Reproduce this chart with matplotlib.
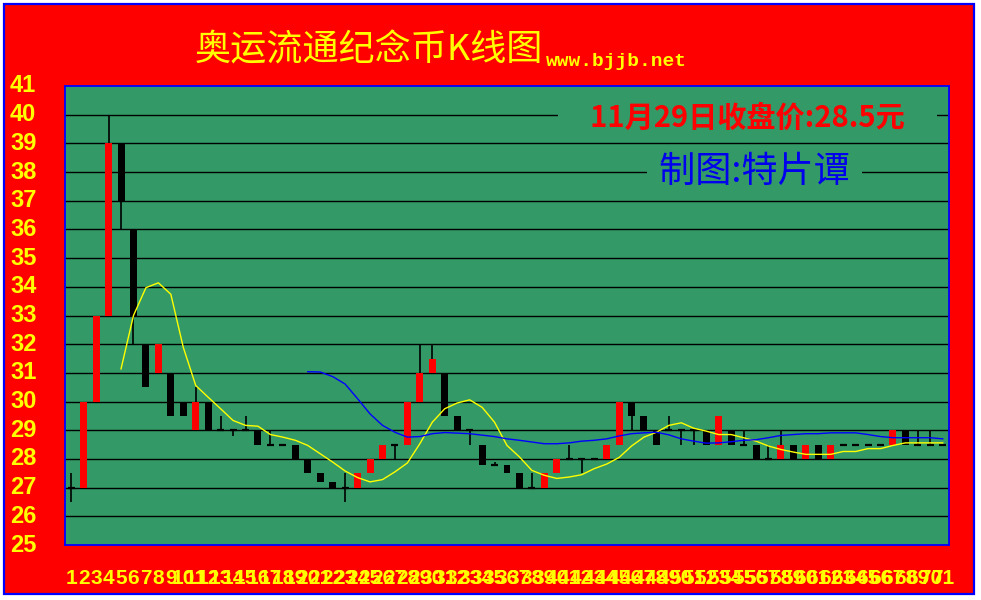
import numpy as np
import matplotlib.pyplot as plt
from matplotlib.patches import Rectangle
from matplotlib.transforms import blended_transform_factory
from matplotlib import font_manager

plt.rcParams['font.family'] = ['Noto Sans CJK SC', 'DejaVu Sans']
plt.rcParams['axes.unicode_minus'] = False

installed = {f.name for f in font_manager.fontManager.ttflist}
narrow = 'Liberation Sans Narrow' if 'Liberation Sans Narrow' in installed else 'Liberation Sans'

# 日K数据（第1天到第71天）
days = np.arange(1, 72)
open_ = [27, 27, 30, 33, 39, 36, 32, 31, 31, 30,
         29, 30, 29, 29, 29, 29, 28.5, 28.5, 28.5, 28,
         27.5, 27.2, 27, 27, 27.5, 28, 28.5, 28.5, 30, 31,
         31, 29.5, 29, 28.5, 27.8, 27.8, 27.5, 27, 27, 27.5,
         28, 28, 28, 28, 28.5, 30, 29.5, 29, 29, 29,
         29, 29, 28.5, 29, 28.5, 28.5, 28, 28, 28.5, 28,
         28.5, 28, 28.5, 28.5, 28.5, 28.5, 28.5, 29, 28.5, 28.5,
         28.5]
close = [27, 30, 33, 39, 37, 33, 30.5, 32, 29.5, 29.5,
         30, 29, 29, 29, 29, 28.5, 28.5, 28.5, 28, 27.5,
         27.2, 27, 27, 27.5, 28, 28.5, 28.5, 30, 31, 31.5,
         29.5, 29, 29, 27.8, 27.8, 27.5, 27, 27, 27.5, 28,
         28, 28, 28, 28.5, 30, 29.5, 29, 28.5, 29, 29,
         29, 28.5, 29.5, 28.5, 28.5, 28, 28, 28.5, 28, 28.5,
         28, 28.5, 28.5, 28.5, 28.5, 28.5, 29, 28.5, 28.5, 28.5,
         28.5]
high = [27.5, 30, 33, 40, 39, 36, 32, 32, 31, 30,
        30.5, 30, 29.5, 29, 29.5, 29, 29, 28.5, 28.5, 28,
        27.5, 27.2, 27.5, 27.5, 28, 28.5, 28.5, 30, 32, 32,
        31, 29.5, 29, 28.5, 27.9, 27.8, 27.5, 27.5, 27.5, 28,
        28.5, 28, 28, 28.5, 30, 30, 29.5, 29, 29.5, 29,
        29, 29, 29.5, 29, 29, 28.5, 28.5, 29, 28.5, 28.5,
        28.5, 28.5, 28.5, 28.5, 28.5, 28.5, 29, 29, 29, 29,
        28.5]
low = [26.5, 27, 30, 33, 36, 32, 30.5, 31, 29.5, 29.5,
       29, 29, 29, 28.8, 29, 28.5, 28.5, 28.5, 28, 27.5,
       27.2, 27, 26.5, 27, 27.5, 28, 28, 28.5, 30, 31,
       29.5, 29, 28.5, 27.8, 27.8, 27.5, 27, 27, 27, 27.5,
       28, 27.5, 28, 28, 28.5, 29, 29, 28.5, 29, 28.5,
       28.5, 28.5, 28.5, 28.5, 28.5, 28, 28, 28, 28, 28,
       28, 28, 28.5, 28.5, 28.5, 28.5, 28.5, 28.5, 28.5, 28.5,
       28.5]

# 黄线（短期均线，从第5天开始）
ma_short_days = np.arange(5, 72)
ma_short = [31.14, 33.0, 33.97, 34.14, 33.74, 31.89, 30.56, 30.15, 29.75, 29.34,
            29.17, 29.14, 28.85, 28.76, 28.65, 28.47, 28.18, 27.89, 27.58, 27.35,
            27.2, 27.28, 27.55, 27.86, 28.53, 29.28, 29.75, 29.95, 30.06, 29.8,
            29.28, 28.47, 28.07, 27.6, 27.43, 27.32, 27.37, 27.45, 27.66, 27.82,
            28.05, 28.45, 28.76, 28.93, 29.17, 29.26, 29.07, 28.97, 28.85, 28.85,
            28.74, 28.62, 28.45, 28.33, 28.24, 28.16, 28.16, 28.16, 28.26, 28.26,
            28.36, 28.36, 28.47, 28.56, 28.56, 28.56, 28.56]
# 蓝线（长期均线，从第20天开始）
ma_long_days = np.arange(20, 72)
ma_long = [31.04, 31.03, 30.87, 30.61, 30.1, 29.57, 29.17, 28.93, 28.76, 28.78,
           28.88, 28.92, 28.9, 28.88, 28.83, 28.78, 28.7, 28.65, 28.59, 28.53,
           28.53, 28.56, 28.62, 28.65, 28.7, 28.8, 28.88, 28.91, 28.93, 28.84,
           28.7, 28.62, 28.55, 28.56, 28.6, 28.65, 28.67, 28.74, 28.82, 28.85,
           28.88, 28.88, 28.91, 28.91, 28.91, 28.85, 28.78, 28.74, 28.74, 28.74,
           28.74, 28.7]

price_ticks = list(range(25, 42))

GREEN = '#339966'
YELLOW = '#FFFF00'

fig = plt.figure(figsize=(9.81, 6.0), dpi=100, facecolor='white')
# 红色底板 + 蓝边框
fig.patches.append(Rectangle((4 / 981, 6 / 600), 970 / 981, 590 / 600,
                             transform=fig.transFigure, facecolor='#FF0000',
                             edgecolor='#0000FF', linewidth=1.6, zorder=-10))

ax = fig.add_axes([65 / 981, 55 / 600, 884 / 981, 459 / 600])
ax.set_zorder(2)
ax.set_facecolor(GREEN)
ax.set_xlim(0.5, 71.5)
ax.set_ylim(25, 41)
for s in ax.spines.values():
    s.set_color('#0000FF')
    s.set_linewidth(1.3)
ax.set_xticks([])
ax.set_yticks([])
for p in price_ticks[1:-1]:
    ax.axhline(p, color='black', linewidth=1.0, zorder=1)

# K线
o = np.array(open_)
c = np.array(close)
up = c > o
down = c < o
flat = c == o
ax.vlines(days, low, high, color='black', linewidth=1.2, zorder=2)
ax.bar(days[up], (c - o)[up], bottom=o[up], width=0.56, color='red', zorder=3)
ax.bar(days[down], (o - c)[down], bottom=c[down], width=0.56, color='black', zorder=3)
ax.hlines(c[flat], days[flat] - 0.28, days[flat] + 0.28, color='black', linewidth=1.6, zorder=3)

ax.plot(ma_short_days, ma_short, color=YELLOW, linewidth=1.0, zorder=4)
ax.plot(ma_long_days, ma_long, color='#0000FF', linewidth=1.0, zorder=4)

# 纵轴刻度文字
ty = blended_transform_factory(fig.transFigure, ax.transData)
for p in price_ticks:
    fig.text(10 / 981, p, str(p), transform=ty, ha='left', va='center',
             fontsize=17, fontweight='bold', color=YELLOW, family='Liberation Sans')

# 横轴日期序号
tx = blended_transform_factory(ax.transData, fig.transFigure)
for d in days:
    fig.text(d, 1 - 578 / 600, str(d), transform=tx, ha='center', va='center',
             fontsize=15, fontweight='bold', color=YELLOW, family=narrow)

# 标题
fig.text(369 / 981, 1 - 50 / 600, '奥运流通纪念币K线图', ha='center', va='center',
         fontsize=26, color=YELLOW)
fig.text(546 / 981, 1 - 66 / 600, 'www.bjjb.net', ha='left', va='baseline',
         fontsize=14, fontweight='bold', color=YELLOW, family='Liberation Mono')

ax.text(0.772, 0.932, '\u300011月29日收盘价:28.5元\u3000', transform=ax.transAxes,
        ha='center', va='center', fontsize=21, fontweight='bold', color='#FF0000',
        zorder=5, bbox=dict(boxstyle='square,pad=0.1', facecolor=GREEN, edgecolor='none'))
ax.text(0.78, 0.813, ' 制图:特片谭 ', transform=ax.transAxes, ha='center', va='center',
        fontsize=26, fontstyle='italic', color='#0000EE', zorder=5,
        bbox=dict(boxstyle='square,pad=0.1', facecolor=GREEN, edgecolor='none'))

fig.savefig('out.png', dpi=100, facecolor=fig.get_facecolor())
